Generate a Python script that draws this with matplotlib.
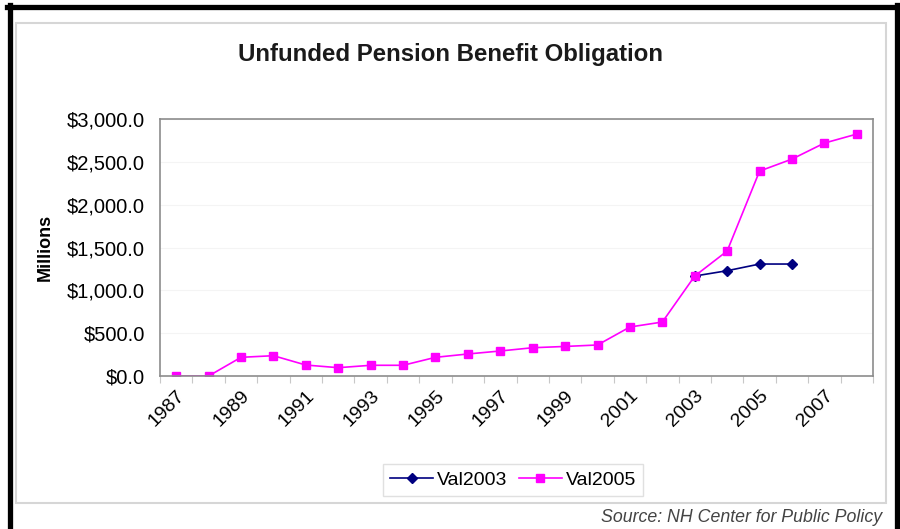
import matplotlib.pyplot as plt
from matplotlib.lines import Line2D
from matplotlib.patches import Rectangle
from matplotlib.ticker import FuncFormatter

plt.rcParams['font.family'] = ['Liberation Sans', 'DejaVu Sans']

# values (millions of dollars)
years = list(range(1987, 2009))
val2005 = [0, 0, 218, 237, 128, 97, 125, 125, 218, 257, 292, 330,
           345, 362, 572, 630, 1167, 1459, 2392, 2532, 2719, 2824]
years_2003 = [2003, 2004, 2005, 2006]
val2003 = [1167, 1229, 1307, 1307]

W, H = 900, 529
fig = plt.figure(figsize=(9, 5.29), dpi=100)

def fx(px):
    return px / W

def fy(py):
    return 1 - py / H

# outer black frame (left, top, right) and grey chart-area border
fig.add_artist(Line2D([fx(9.5), fx(9.5)], [fy(5), fy(540)], color='black', lw=3.8))
fig.add_artist(Line2D([fx(7), fx(899)], [fy(7), fy(7)], color='black', lw=3.8))
fig.add_artist(Line2D([fx(896.5), fx(896.5)], [fy(5), fy(540)], color='black', lw=3.8))
fig.add_artist(Rectangle((fx(16), fy(503)), fx(870), 480 / H, fill=False,
                         edgecolor='#d6d6d6', lw=1.5, transform=fig.transFigure))

ax = fig.add_axes([fx(160), fy(376), fx(713), 257 / H])

idx = list(range(len(years)))
idx03 = [years.index(y) for y in years_2003]
ax.plot(idx03, val2003, color='#000080', lw=1.2, marker='D', ms=5, label='Val2003')
ax.plot(idx, val2005, color='#FF00FF', lw=1.2, marker='s', ms=6, label='Val2005')

ax.set_xlim(-0.5, len(years) - 0.5)
ax.set_ylim(0, 3000)
ax.set_yticks(range(0, 3001, 500))
ax.yaxis.set_major_formatter(FuncFormatter(lambda v, p: '${:,.1f}'.format(v)))
ax.grid(axis='y', color='#f4f4f4', lw=0.8)
ax.set_axisbelow(True)

# tick marks on category boundaries, labels on every other category
ax.set_xticks([i - 0.5 for i in range(len(years) + 1)])
ax.set_xticklabels([])
ax.set_xticks(idx[::2], minor=True)
ax.set_xticklabels([str(y) for y in years[::2]], minor=True, rotation=45,
                   ha='right', va='top', rotation_mode='anchor', fontsize=14)
ax.tick_params(axis='x', which='major', length=5, color='#c8c8c8', direction='out')
ax.tick_params(axis='x', which='minor', length=0, pad=8)
ax.tick_params(axis='y', length=0, pad=11, labelsize=14.5)

for s in ax.spines.values():
    s.set_color('#8c8c8c')
    s.set_linewidth(1.2)

ax.set_ylabel('Millions', fontsize=13, fontweight='bold', labelpad=9)

fig.text(fx(451), fy(55), 'Unfunded Pension Benefit Obligation', ha='center',
         va='center', fontsize=17.3, fontweight='bold', color='#1a1a1a')

fig.legend(loc='center', bbox_to_anchor=(fx(513), fy(480)), ncol=2,
           fancybox=False, edgecolor='#e0e0e0', fontsize=14, handlelength=2.2,
           handletextpad=0.2, columnspacing=0.6, borderpad=0.35, framealpha=1)

fig.text(fx(882), fy(518), 'Source: NH Center for Public Policy', ha='right',
         va='center', fontsize=12.8, style='italic', color='#444444')

fig.savefig('out.png', dpi=100)
